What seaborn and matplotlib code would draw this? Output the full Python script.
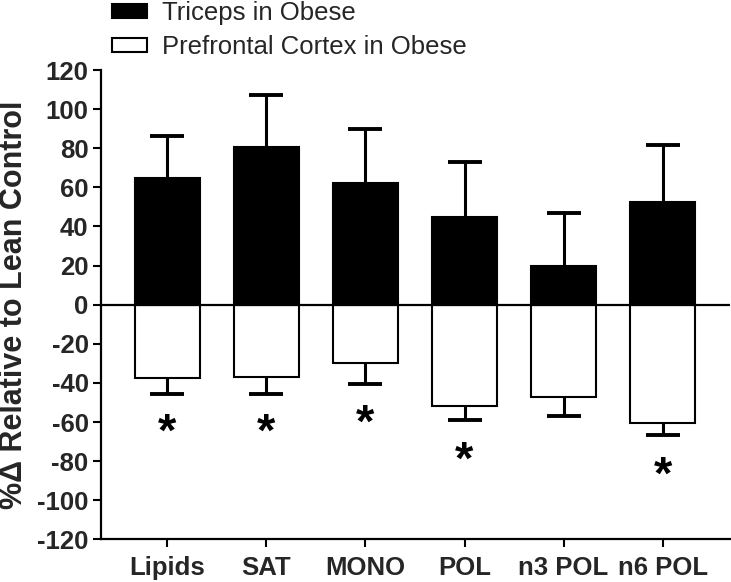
import numpy as np
import pandas as pd
import matplotlib
matplotlib.use("Agg")
import matplotlib.pyplot as plt
import seaborn as sns

categories = ["Lipids", "SAT", "MONO", "POL", "n3 POL", "n6 POL"]
triceps = [65.0, 80.6, 62.0, 45.0, 19.7, 52.7]
triceps_err = [21.4, 26.7, 28.0, 28.2, 27.1, 28.7]
prefrontal = [-37.3, -37.2, -30.0, -51.7, -47.3, -60.3]
prefrontal_err = [8.2, 8.3, 10.6, 7.5, 9.4, 6.5]
series_names = ["Triceps in Obese", "Prefrontal Cortex in Obese"]
star_cats = ["Lipids", "SAT", "MONO", "POL", "n6 POL"]
star_y = [-66, -66, -61.5, -80.5, -88]
yticks = list(range(-120, 121, 20))

sns.set_style("ticks")
plt.rcParams["font.family"] = ["Liberation Sans", "DejaVu Sans"]

df = pd.DataFrame({
    "category": categories * 2,
    "value": triceps + prefrontal,
    "series": [series_names[0]] * len(categories) + [series_names[1]] * len(categories),
})

fig = plt.figure(figsize=(7.31, 5.82), dpi=100)
ax = fig.add_axes([101 / 731, 42.6 / 582, 629 / 731, 469.4 / 582])

sns.barplot(data=df, x="category", y="value", hue="series", order=categories,
            hue_order=series_names, dodge=False, palette=["black", "white"],
            edgecolor="black", linewidth=1.5, width=0.66, errorbar=None, ax=ax,
            legend=True)

xpos = np.arange(len(categories))
t = np.array(triceps)
te = np.array(triceps_err)
p = np.array(prefrontal)
pe = np.array(prefrontal_err)
ax.vlines(xpos, t, t + te, color="black", lw=2.2, zorder=0.5)
ax.plot(xpos, t + te, ls="none", marker="_", markersize=24, mew=2.8, color="black")
ax.vlines(xpos, p - pe, p, color="black", lw=2.2, zorder=0.5)
ax.plot(xpos, p - pe, ls="none", marker="_", markersize=24, mew=2.8, color="black")

ax.axhline(0, color="black", lw=1.6, zorder=3)

for c, y in zip(star_cats, star_y):
    ax.text(categories.index(c), y, "*", ha="center", va="center",
            fontsize=34, fontweight="bold", color="black")

ax.set_ylim(-120, 120)
ax.set_xlim(-0.67, 5.68)
ax.set_yticks(yticks)
ax.set_yticklabels([str(v) for v in yticks], fontsize=18.5, fontweight="bold")
ax.set_xticks(xpos)
ax.set_xticklabels(categories, fontsize=18.5, fontweight="bold")
ax.set_xlabel("")
ax.set_ylabel("%\u0394 Relative to Lean Control", fontsize=22, fontweight="bold",
              labelpad=6)
ax.tick_params(axis="both", direction="out", length=6, width=1.5, color="black")
ax.tick_params(axis="y", pad=3)
ax.tick_params(axis="x", pad=6)
for s in ["top", "right"]:
    ax.spines[s].set_visible(False)
for s in ["left", "bottom"]:
    ax.spines[s].set_linewidth(1.6)
    ax.spines[s].set_color("black")

handles, labels = ax.get_legend_handles_labels()
ax.get_legend().remove()
fig.legend(handles, labels, loc="upper left", bbox_to_anchor=(112 / 731, 1 - 1 / 582),
           frameon=False, fontsize=18.5, borderpad=0, borderaxespad=0,
           handlelength=1.35, handleheight=0.5, handletextpad=0.6,
           labelspacing=0.4)

fig.savefig("out.png", dpi=100)
